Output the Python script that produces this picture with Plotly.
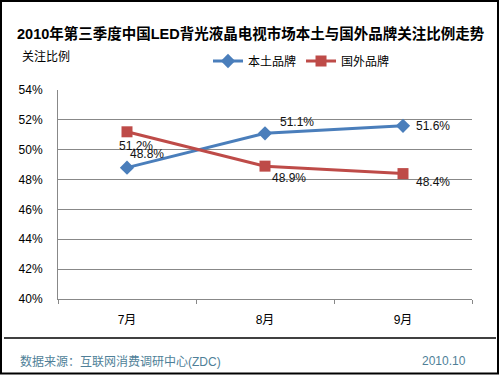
import plotly.graph_objects as go

categories = ["7月", "8月", "9月"]
local_brand = [48.8, 51.1, 51.6]
foreign_brand = [51.2, 48.9, 48.4]
y_ticks = [40, 42, 44, 46, 48, 50, 52, 54]
y_tick_labels = ["40%", "42%", "44%", "46%", "48%", "50%", "52%", "54%"]
series_names = ["本土品牌", "国外品牌"]

W, H = 500, 375
L, R, T, B = 58, 472, 90, 299

def px(x):
    return (x - L) / (R - L)

def py(y):
    return (B - y) / (B - T)

FONT = "Liberation Sans, Arial, Noto Sans CJK SC, sans-serif"
BLUE = "#4a7ebb"
RED = "#be4b48"

fig = go.Figure()
fig.add_trace(go.Scatter(
    x=categories, y=local_brand, name=series_names[0], mode="lines+markers",
    line=dict(color=BLUE, width=3), marker=dict(symbol="diamond", size=11, color=BLUE)))
fig.add_trace(go.Scatter(
    x=categories, y=foreign_brand, name=series_names[1], mode="lines+markers",
    line=dict(color=RED, width=3), marker=dict(symbol="square", size=11, color=RED)))

annos = []
local_offsets = [(20, 14), (32, 11), (30, 0)]
foreign_offsets = [(9, -14), (24, -12), (30, -8)]
for i, c in enumerate(categories):
    dx, dy = local_offsets[i]
    annos.append(dict(x=c, y=local_brand[i], xref="x", yref="y", text=f"{local_brand[i]:.1f}%",
                      showarrow=False, xshift=dx, yshift=dy,
                      font=dict(family=FONT, size=12, color="#111")))
    dx, dy = foreign_offsets[i]
    annos.append(dict(x=c, y=foreign_brand[i], xref="x", yref="y", text=f"{foreign_brand[i]:.1f}%",
                      showarrow=False, xshift=dx, yshift=dy,
                      font=dict(family=FONT, size=12, color="#111")))

annos.append(dict(x=px(251), y=py(33), xref="paper", yref="paper",
                  text="<b>2010年第三季度中国LED背光液晶电视市场本土与国外品牌关注比例走势</b>",
                  showarrow=False, xanchor="center", yanchor="middle",
                  font=dict(family=FONT, size=14.5, color="#000")))
annos.append(dict(x=px(20), y=py(57), xref="paper", yref="paper", text="关注比例",
                  showarrow=False, xanchor="left", yanchor="middle",
                  font=dict(family=FONT, size=12, color="#000")))
annos.append(dict(x=px(18), y=py(361), xref="paper", yref="paper",
                  text="数据来源：互联网消费调研中心(ZDC)", showarrow=False,
                  xanchor="left", yanchor="middle",
                  font=dict(family=FONT, size=12, color="#4f7f98")))
annos.append(dict(x=px(468), y=py(361), xref="paper", yref="paper",
                  text="2010.10", showarrow=False, xanchor="right", yanchor="middle",
                  font=dict(family=FONT, size=12, color="#4f7f98")))

shapes = [
    dict(type="rect", xref="paper", yref="paper", x0=px(1), x1=px(498), y0=py(1), y1=py(373.5),
         line=dict(color="#000", width=2)),
    dict(type="line", xref="paper", yref="paper", x0=px(4), x1=px(496), y0=py(338), y1=py(338),
         line=dict(color="#000", width=1.5)),
]

fig.update_layout(
    width=W, height=H,
    margin=dict(l=L, r=W - R, t=T, b=H - B, autoexpand=False),
    paper_bgcolor="white", plot_bgcolor="white",
    font=dict(family=FONT, size=12, color="#000"),
    showlegend=True,
    legend=dict(orientation="h", x=px(208), y=py(61), xanchor="left", yanchor="middle",
                font=dict(family=FONT, size=12, color="#000"), bgcolor="rgba(0,0,0,0)",
                itemwidth=30, tracegroupgap=0),
    annotations=annos, shapes=shapes,
    xaxis=dict(type="category", range=[-0.5, 2.5], showgrid=False,
               showline=True, linecolor="#888", linewidth=1, mirror=False,
               ticks="outside", tickson="boundaries", ticklen=4, tickcolor="#888",
               ticklabelstandoff=10, tickfont=dict(family=FONT, size=12, color="#000")),
    yaxis=dict(range=[40, 54], tickvals=y_ticks, ticktext=y_tick_labels,
               showgrid=True, gridcolor="#888", gridwidth=1,
               showline=True, linecolor="#888", linewidth=1, ticks="", zeroline=False,
               ticklabelstandoff=12, tickfont=dict(family=FONT, size=12, color="#000")),
)

fig.write_html("out.html", config={"displayModeBar": False},
               post_script="document.body.style.margin='0';")
